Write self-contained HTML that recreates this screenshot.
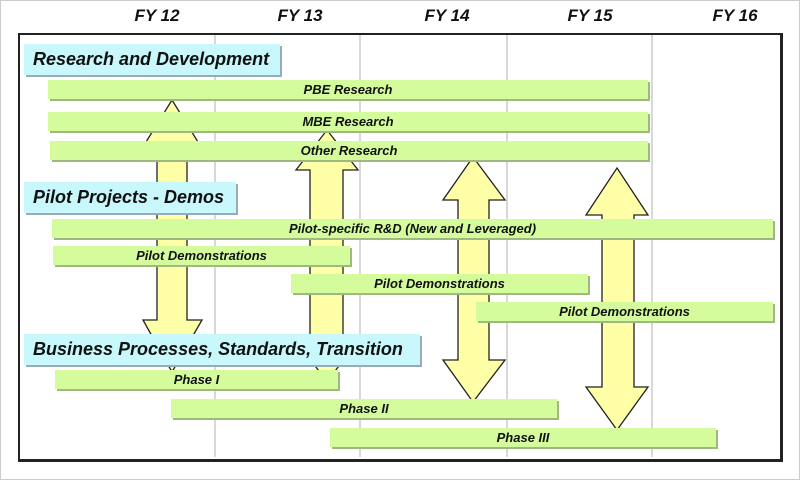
<!DOCTYPE html>
<html><head><style>
body{margin:0;width:800px;height:480px;background:#fff;position:relative;overflow:hidden;font-family:"Liberation Sans",sans-serif;font-style:italic;font-weight:bold}
.pg{position:absolute;left:0;top:0;width:798px;height:478px;border:1px solid #ccc}
.fy{position:absolute;top:6px;font-size:17px;width:80px;text-align:center;color:#111}
.fr{position:absolute;left:18px;top:33px;width:760px;height:424px;border:2px solid #222;border-right-width:3px;border-bottom-width:3px}
.b{position:absolute;height:19px;background:#d4fc9c;box-shadow:2px 2px 0 #9fb880;font-size:13px;line-height:19px;text-align:center;color:#111}
.h{position:absolute;background:#c8f8fc;box-shadow:2px 2px 0 #9ab;font-size:18px;line-height:31px;padding-left:9px;color:#111}
svg{position:absolute;left:0;top:0}
</style></head><body>
<div class="pg"></div>
<div class="fy" style="left:117px">FY 12</div>
<div class="fy" style="left:260px">FY 13</div>
<div class="fy" style="left:407px">FY 14</div>
<div class="fy" style="left:550px">FY 15</div>
<div class="fy" style="left:695px">FY 16</div>
<div class="fr"></div>
<svg width="800" height="480">
<g stroke="#ccc" stroke-width="1.5"><line x1="215" y1="35" x2="215" y2="457"/><line x1="360" y1="35" x2="360" y2="457"/><line x1="507" y1="35" x2="507" y2="457"/><line x1="652" y1="35" x2="652" y2="457"/></g>
<g fill="#ffffa8" stroke="#222" stroke-width="1.3">
<polygon points="172,100 198,142 187,142 187,320 202,320 172,372 143,320 157,320 157,142 146,142"/>
<polygon points="327,130 358,170 343,170 343,340 358,340 327,382 296,340 310,340 310,170 296,170"/>
<polygon points="473,157 505,200 489,200 489,360 505,360 473,402 443,360 458,360 458,200 443,200"/>
<polygon points="617,168 648,215 634,215 634,387 648,387 617,430 586,387 602,387 602,215 586,215"/>
</g></svg>
<div class="h" style="left:24px;top:44px;width:247px;height:31px">Research and Development</div>
<div class="h" style="left:24px;top:182px;width:203px;height:31px">Pilot Projects - Demos</div>
<div class="h" style="left:24px;top:334px;width:387px;height:31px">Business Processes, Standards, Transition</div>
<div class="b" style="left:48px;top:80px;width:600px">PBE Research</div>
<div class="b" style="left:48px;top:112px;width:600px">MBE Research</div>
<div class="b" style="left:50px;top:141px;width:598px">Other Research</div>
<div class="b" style="left:52px;top:219px;width:721px">Pilot-specific R&amp;D (New and Leveraged)</div>
<div class="b" style="left:53px;top:246px;width:297px">Pilot Demonstrations</div>
<div class="b" style="left:291px;top:274px;width:297px">Pilot Demonstrations</div>
<div class="b" style="left:476px;top:302px;width:297px">Pilot Demonstrations</div>
<div class="b" style="left:55px;top:370px;width:283px">Phase I</div>
<div class="b" style="left:171px;top:399px;width:386px">Phase II</div>
<div class="b" style="left:330px;top:428px;width:386px">Phase III</div>
</body></html>
